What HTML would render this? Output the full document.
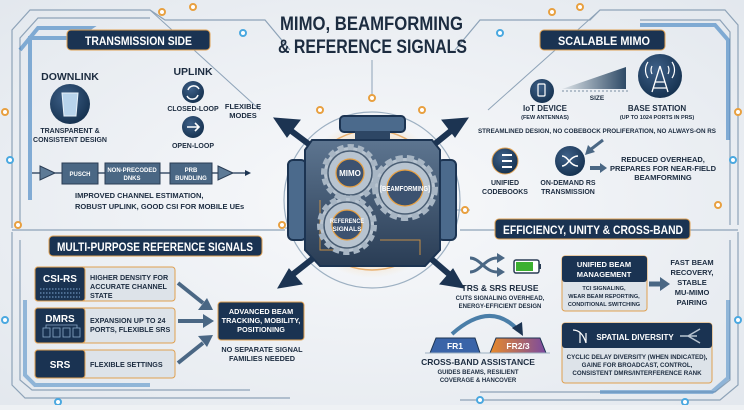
<!DOCTYPE html>
<html><head><meta charset="utf-8"><style>
html,body{margin:0;padding:0;}
body{width:744px;height:405px;overflow:hidden;background:#eef1f4;}
svg text{font-family:"Liberation Sans",Arial,sans-serif;font-weight:bold;fill:#1c2c40;}
</style></head><body>
<svg width="744" height="405" viewBox="0 0 744 405" xmlns="http://www.w3.org/2000/svg">
<defs>
<radialGradient id="bg" cx="50%" cy="50%" r="70%"><stop offset="0" stop-color="#f8f9fb"/><stop offset="1" stop-color="#e3e8ee"/></radialGradient>
<radialGradient id="glow" cx="50%" cy="50%" r="50%"><stop offset="0.6" stop-color="#f6c98a" stop-opacity="0.7"/><stop offset="1" stop-color="#f6c98a" stop-opacity="0"/></radialGradient>
<linearGradient id="body" x1="0" y1="0" x2="0" y2="1"><stop offset="0" stop-color="#5d7590"/><stop offset="1" stop-color="#2a3d55"/></linearGradient>
<linearGradient id="wedge" x1="0" y1="0" x2="1" y2="0"><stop offset="0" stop-color="#dfe5ea"/><stop offset="1" stop-color="#2e4a66"/></linearGradient>
<linearGradient id="fr2" x1="0" y1="0" x2="1" y2="0"><stop offset="0" stop-color="#e88a2a"/><stop offset="1" stop-color="#7a4aa0"/></linearGradient>
<radialGradient id="ic" cx="40%" cy="35%" r="70%"><stop offset="0" stop-color="#3e6088"/><stop offset="1" stop-color="#14304e"/></radialGradient>
</defs>
<rect width="744" height="405" fill="url(#bg)"/>
<g fill="none" stroke="#8ea3b8" stroke-width="1.2">
<path d="M12 228 V30 L30 10 H150 L165 20 H265 L290 50"/>
<path d="M20 225 V38 L38 18 H150"/>
<path d="M455 50 L480 20 H590 L600 10 H725 L738 25 V225"/>
<path d="M730 225 V32 L720 20 H640"/>
<path d="M12 232 V385 L25 398 H290"/>
<path d="M20 240 V380 L32 390 H250"/>
<path d="M460 400 H720 L738 385 V232"/>
<path d="M480 392 H715 L730 380 V240"/>
<path d="M12 230 H285"/><path d="M460 230 H738"/>
</g>
<path d="M20 50 L38 28 H90 L75 38 H30 V200" fill="none" stroke="#3a7fc0" stroke-width="4" opacity="0.6"/>
<path d="M640 25 H715 L728 40 V140" fill="none" stroke="#3a7fc0" stroke-width="4" opacity="0.6"/>
<path d="M25 300 V375 L35 385 H150" fill="none" stroke="#3a7fc0" stroke-width="4" opacity="0.5"/>
<path d="M600 392 H712 L728 378 V300" fill="none" stroke="#3a7fc0" stroke-width="4" opacity="0.5"/>
<g stroke="#8ea3b8" stroke-width="1" fill="none">
<path d="M150 10 L260 110"/><path d="M600 10 L488 110"/><path d="M372 60 V98"/>
<path d="M285 228 H300"/><path d="M440 210 H470"/>
</g>
<g fill="#fff" stroke="#e8a040" stroke-width="2">
<circle cx="162" cy="12" r="3"/><circle cx="193" cy="7" r="3"/><circle cx="5" cy="112" r="3"/>
<circle cx="580" cy="7" r="3"/><circle cx="552" cy="12" r="3"/><circle cx="738" cy="112" r="3"/>
<circle cx="372" cy="98" r="3"/><circle cx="320" cy="110" r="3"/><circle cx="422" cy="110" r="3"/>
<circle cx="18" cy="225" r="3"/><circle cx="282" cy="225" r="3"/><circle cx="465" cy="210" r="3"/><circle cx="718" cy="205" r="3"/>
</g>
<g fill="#fff" stroke="#4aa8e0" stroke-width="2">
<circle cx="243" cy="33" r="3"/><circle cx="500" cy="33" r="3"/><circle cx="10" cy="160" r="3"/>
<circle cx="733" cy="160" r="3"/><circle cx="5" cy="320" r="3"/><circle cx="58" cy="402" r="3"/>
<circle cx="480" cy="400" r="3"/><circle cx="738" cy="320" r="3"/><circle cx="685" cy="402" r="3"/>
</g>
<text x="280" y="30" font-size="19" textLength="183" lengthAdjust="spacingAndGlyphs" fill="#1d3350">MIMO, BEAMFORMING</text>
<text x="278" y="53" font-size="19" textLength="189" lengthAdjust="spacingAndGlyphs" fill="#1d3350">&amp; REFERENCE SIGNALS</text>
<circle cx="372" cy="200" r="88" fill="none" stroke="#9db0c2" stroke-width="1.2"/>
<circle cx="372" cy="200" r="78" fill="url(#glow)"/>
<circle cx="372" cy="200" r="70" fill="none" stroke="#e8b070" stroke-width="1.5"/>
<g stroke="#1c3452" stroke-width="6" fill="#1c3452">
<line x1="330" y1="160" x2="290" y2="130"/><polygon points="274,118 300,120 287,137" stroke-width="1"/>
<line x1="415" y1="160" x2="452" y2="130"/><polygon points="468,118 442,120 455,137" stroke-width="1"/>
<line x1="330" y1="245" x2="292" y2="275"/><polygon points="278,288 302,284 289,269" stroke-width="1"/>
<line x1="415" y1="245" x2="450" y2="275"/><polygon points="464,288 440,284 453,269" stroke-width="1"/>
</g>
<rect x="340" y="116" width="65" height="16" rx="4" fill="#4b6a8c" stroke="#1c3452" stroke-width="2"/>
<rect x="355" y="131" width="35" height="10" fill="#2d4664"/>
<rect x="288" y="160" width="18" height="80" rx="5" fill="#4b6a8c" stroke="#1c3452" stroke-width="2"/>
<rect x="438" y="160" width="18" height="80" rx="5" fill="#4b6a8c" stroke="#1c3452" stroke-width="2"/>
<path d="M312 140 H432 L440 150 V250 L425 266 H320 L305 250 V150 Z" fill="url(#body)" stroke="#1c3452" stroke-width="2"/>
<g stroke="#e8a040" stroke-width="1" fill="none" opacity="0.8"><path d="M380 240 H420 V255"/><path d="M320 200 V250 H350"/></g>
<g fill="#b8c4d0" stroke="#4a5e74" stroke-width="1.5">
<circle cx="350" cy="173" r="26" stroke-dasharray="6 4" stroke-width="6" stroke="#a8b6c4"/><circle cx="350" cy="173" r="22"/>
<circle cx="405" cy="188" r="30" stroke-dasharray="7 4" stroke-width="6" stroke="#a8b6c4"/><circle cx="405" cy="188" r="26"/>
<circle cx="347" cy="225" r="27" stroke-dasharray="6 4" stroke-width="6" stroke="#a8b6c4"/><circle cx="347" cy="225" r="23"/>
</g>
<g fill="#3c5270" stroke="#e8a040" stroke-width="1.2"><circle cx="350" cy="173" r="14"/><circle cx="405" cy="188" r="18"/><circle cx="347" cy="225" r="15"/></g>
<text x="350" y="176" font-size="8" text-anchor="middle" style="fill:#fff">MIMO</text>
<text x="380" y="191" font-size="7.5" textLength="50" lengthAdjust="spacingAndGlyphs" style="fill:#fff">[BEAMFORMING]</text>
<text x="330" y="223" font-size="6.5" textLength="34" lengthAdjust="spacingAndGlyphs" style="fill:#fff">REFERENCE</text>
<text x="347" y="231" font-size="6.5" text-anchor="middle" style="fill:#fff">SIGNALS</text>
<g fill="#1a3352" stroke="#e0a050" stroke-width="1">
<rect x="67" y="30" width="143" height="20" rx="4"/>
<rect x="540" y="30" width="125" height="20" rx="4"/>
<rect x="49" y="236" width="213" height="20" rx="4"/>
<rect x="495" y="219" width="195" height="20" rx="4"/>
</g>
<g font-size="12">
<text x="85" y="45" textLength="107" lengthAdjust="spacingAndGlyphs" style="fill:#fff">TRANSMISSION SIDE</text>
<text x="558" y="45" textLength="92" lengthAdjust="spacingAndGlyphs" style="fill:#fff">SCALABLE MIMO</text>
<text x="57" y="251" textLength="196" lengthAdjust="spacingAndGlyphs" style="fill:#fff">MULTI-PURPOSE REFERENCE SIGNALS</text>
<text x="503" y="234" textLength="180" lengthAdjust="spacingAndGlyphs" style="fill:#fff">EFFICIENCY, UNITY &amp; CROSS-BAND</text>
</g>
<text x="70" y="80" font-size="10.5" text-anchor="middle">DOWNLINK</text>
<circle cx="70" cy="104" r="20" fill="url(#ic)"/>
<path d="M62 93 H78 L76 116 H64 Z" fill="#b8d4ec" stroke="#e8f2fa" stroke-width="1"/>
<text x="70" y="133" font-size="7" text-anchor="middle">TRANSPARENT &amp;</text>
<text x="70" y="142" font-size="7" text-anchor="middle">CONSISTENT DESIGN</text>
<text x="193" y="75" font-size="10.5" text-anchor="middle">UPLINK</text>
<circle cx="193" cy="92" r="11" fill="url(#ic)"/>
<path d="M188 90 A6 6 0 0 1 199 89 M198 95 A6 6 0 0 1 187 96" stroke="#fff" stroke-width="1.5" fill="none"/>
<text x="193" y="111" font-size="7" text-anchor="middle">CLOSED-LOOP</text>
<circle cx="193" cy="127" r="11" fill="url(#ic)"/>
<path d="M187 127 H199 M195 123 L199 127 L195 131" stroke="#fff" stroke-width="1.6" fill="none"/>
<text x="193" y="148" font-size="7" text-anchor="middle">OPEN-LOOP</text>
<text x="243" y="109" font-size="7.5" text-anchor="middle">FLEXIBLE</text>
<text x="243" y="118" font-size="7.5" text-anchor="middle">MODES</text>
<line x1="32" y1="173" x2="245" y2="173" stroke="#1c3452" stroke-width="1.2"/>
<polygon points="245,170 251,173 245,176" fill="#1c3452"/>
<polygon points="40,166 55,173 40,180" fill="#5d7a96" stroke="#2a3d55"/>
<polygon points="218,166 233,173 218,180" fill="#5d7a96" stroke="#2a3d55"/>
<g fill="#4a6784" stroke="#2a3d55"><rect x="62" y="163" width="36" height="21"/><rect x="105" y="163" width="55" height="21"/><rect x="170" y="163" width="42" height="21"/></g>
<g font-size="6" text-anchor="middle"><text x="80" y="176" style="fill:#fff">PUSCH</text><text x="132" y="172" style="fill:#fff">NON-PRECODED</text><text x="132" y="180" style="fill:#fff">DNKS</text><text x="191" y="172" style="fill:#fff">PRB</text><text x="191" y="180" style="fill:#fff">BUNDLING</text></g>
<text x="75" y="198" font-size="7.5">IMPROVED CHANNEL ESTIMATION,</text>
<text x="75" y="209" font-size="7.5">ROBUST UPLINK, GOOD CSI FOR MOBILE UEs</text>
<circle cx="542" cy="91" r="12" fill="url(#ic)"/><rect x="538" y="84" width="7" height="12" rx="1" fill="none" stroke="#fff" stroke-width="1.2"/>
<polygon points="562,89 626,67 626,89" fill="url(#wedge)"/>
<line x1="562" y1="91" x2="628" y2="91" stroke="#7a8ea2" stroke-dasharray="2 2"/>
<text x="597" y="100" font-size="6.5" text-anchor="middle">SIZE</text>
<circle cx="660" cy="76" r="22" fill="url(#ic)"/>
<path d="M660 66 L652 92 M660 66 L668 92 M655 82 H665 M653 88 H667" stroke="#fff" stroke-width="1.3" fill="none"/>
<path d="M652 66 A9 9 0 0 0 652 74 M668 66 A9 9 0 0 1 668 74 M648 62 A14 14 0 0 0 648 78 M672 62 A14 14 0 0 1 672 78" stroke="#fff" stroke-width="1.2" fill="none"/>
<text x="545" y="111" font-size="8" text-anchor="middle">IoT DEVICE</text>
<text x="545" y="119" font-size="5.5" text-anchor="middle">(FEW ANTENNAS)</text>
<text x="657" y="111" font-size="8" text-anchor="middle">BASE STATION</text>
<text x="657" y="119" font-size="5.5" text-anchor="middle">(UP TO 1024 PORTS IN PRS)</text>
<text x="597" y="133" font-size="6.3" text-anchor="middle">STREAMLINED DESIGN, NO COBEBOCK PROLIFERATION, NO ALWAYS-ON RS</text>
<circle cx="505" cy="161" r="13" fill="url(#ic)" stroke="#e0a050" stroke-width="1"/>
<path d="M502 155 H512 M502 161 H512 M502 167 H512" stroke="#fff" stroke-width="2"/>
<text x="505" y="185" font-size="7" text-anchor="middle">UNIFIED</text><text x="505" y="194" font-size="7" text-anchor="middle">CODEBOOKS</text>
<circle cx="570" cy="161" r="15" fill="url(#ic)"/>
<path d="M562 156 C568 156 570 166 578 166 M562 166 C568 166 570 156 578 156" stroke="#fff" stroke-width="1.5" fill="none"/>
<text x="568" y="185" font-size="7" text-anchor="middle">ON-DEMAND RS</text><text x="568" y="194" font-size="7" text-anchor="middle">TRANSMISSION</text>
<path d="M603 140 L590 150" stroke="#4a6784" stroke-width="3"/><polygon points="585,155 588,145 595,152" fill="#4a6784"/>
<path d="M590 168 H600" stroke="#4a6784" stroke-width="4"/><polygon points="600,163 607,168 600,173" fill="#4a6784"/>
<text x="663" y="162" font-size="7.5" text-anchor="middle">REDUCED OVERHEAD,</text>
<text x="663" y="171" font-size="7.5" text-anchor="middle">PREPARES FOR NEAR-FIELD</text>
<text x="663" y="180" font-size="7.5" text-anchor="middle">BEAMFORMING</text>
<g stroke="#e0a050" stroke-width="1">
<rect x="35" y="267" width="140" height="34" rx="3" fill="#dde3e9"/><rect x="35" y="267" width="50" height="34" rx="3" fill="#1a3352"/>
<rect x="35" y="308" width="140" height="35" rx="3" fill="#dde3e9"/><rect x="35" y="308" width="50" height="35" rx="3" fill="#1a3352"/>
<rect x="35" y="350" width="140" height="28" rx="3" fill="#dde3e9"/><rect x="35" y="350" width="50" height="28" rx="3" fill="#1a3352"/>
</g>
<text x="60" y="282" font-size="10" text-anchor="middle" style="fill:#fff">CSI-RS</text>
<path d="M40 289 H80 M40 293 H80 M40 297 H80" stroke="#6a90b8" stroke-width="1.2" stroke-dasharray="1.5 1.5"/>
<text x="60" y="322" font-size="10" text-anchor="middle" style="fill:#fff">DMRS</text>
<g fill="none" stroke="#8aa8c8" stroke-width="0.8"><rect x="43" y="328" width="7" height="9"/><rect x="53" y="328" width="7" height="9"/><rect x="63" y="328" width="7" height="9"/><rect x="73" y="328" width="7" height="9"/><path d="M46 328 V325 H77 V328"/></g>
<text x="60" y="368" font-size="10" text-anchor="middle" style="fill:#fff">SRS</text>
<g font-size="7.2"><text x="90" y="280">HIGHER DENSITY FOR</text><text x="90" y="289">ACCURATE CHANNEL</text><text x="90" y="298">STATE</text>
<text x="90" y="323">EXPANSION UP TO 24</text><text x="90" y="332">PORTS, FLEXIBLE SRS</text><text x="90" y="367">FLEXIBLE SETTINGS</text></g>
<g fill="#4a6784" stroke="#4a6784" stroke-width="4">
<line x1="178" y1="283" x2="203" y2="303"/><line x1="178" y1="321" x2="203" y2="321"/><line x1="178" y1="363" x2="203" y2="343"/>
</g>
<g fill="#4a6784"><polygon points="213,310 198,310 207,298"/><polygon points="214,321 203,314 203,328"/><polygon points="213,335 207,347 198,336"/></g>
<rect x="218" y="302" width="86" height="38" rx="3" fill="#1a3352" stroke="#e0a050"/>
<text x="261" y="314" font-size="7.3" text-anchor="middle" style="fill:#fff">ADVANCED BEAM</text>
<text x="261" y="323" font-size="7.3" text-anchor="middle" style="fill:#fff">TRACKING, MOBILITY,</text>
<text x="261" y="332" font-size="7.3" text-anchor="middle" style="fill:#fff">POSITIONING</text>
<text x="262" y="352" font-size="7.3" text-anchor="middle">NO SEPARATE SIGNAL</text>
<text x="262" y="361" font-size="7.3" text-anchor="middle">FAMILIES NEEDED</text>
<path d="M470 258 C480 258 485 272 497 272 M470 272 C480 272 485 258 497 258" stroke="#4a6784" stroke-width="3" fill="none"/>
<polygon points="497,253 505,258 497,263" fill="#4a6784"/><polygon points="497,267 505,272 497,277" fill="#4a6784"/>
<rect x="514" y="260" width="25" height="13" rx="2" fill="#fff" stroke="#2a3d55" stroke-width="1.5"/><rect x="516" y="262" width="17" height="9" fill="#3cb030"/><rect x="539" y="264" width="2" height="5" fill="#2a3d55"/>
<text x="500" y="291" font-size="8.5" text-anchor="middle">TRS &amp; SRS REUSE</text>
<text x="500" y="300" font-size="6" text-anchor="middle">CUTS SIGNALING OVERHEAD,</text>
<text x="500" y="308" font-size="6" text-anchor="middle">ENERGY-EFFICIENT DESIGN</text>
<path d="M452 334 Q490 300 518 330" stroke="#4a7ea8" stroke-width="4" fill="none"/><polygon points="512,328 523,336 522,322" fill="#1c3452"/>
<path d="M430 353 L436 338 H475 L480 353 Z" fill="#3a64a8" stroke="#1c3452"/>
<path d="M490 353 L496 338 H540 L546 353 Z" fill="url(#fr2)" stroke="#1c3452"/>
<line x1="425" y1="353" x2="550" y2="353" stroke="#9db0c2"/>
<text x="455" y="349" font-size="8.5" text-anchor="middle" style="fill:#fff">FR1</text>
<text x="518" y="349" font-size="8.5" text-anchor="middle" style="fill:#fff">FR2/3</text>
<text x="478" y="365" font-size="8.5" text-anchor="middle">CROSS-BAND ASSISTANCE</text>
<text x="478" y="374" font-size="6" text-anchor="middle">GUIDES BEAMS, RESILIENT</text>
<text x="478" y="382" font-size="6" text-anchor="middle">COVERAGE &amp; HANCOVER</text>
<rect x="562" y="256" width="85" height="55" rx="3" fill="#dde3e9" stroke="#e0a050"/>
<rect x="562" y="256" width="85" height="26" rx="3" fill="#1a3352"/>
<text x="604" y="267" font-size="7.5" text-anchor="middle" style="fill:#fff">UNIFIED BEAM</text>
<text x="604" y="277" font-size="7.5" text-anchor="middle" style="fill:#fff">MANAGEMENT</text>
<text x="604" y="290" font-size="5.6" text-anchor="middle">TCI SIGNALING,</text>
<text x="604" y="298" font-size="5.6" text-anchor="middle">WEAR BEAM REPORTING,</text>
<text x="604" y="306" font-size="5.6" text-anchor="middle">CONDITIONAL SWITCHING</text>
<path d="M649 284 H660" stroke="#4a6784" stroke-width="5"/><polygon points="660,277 670,284 660,291" fill="#4a6784"/>
<g font-size="7.5" text-anchor="middle"><text x="692" y="265">FAST BEAM</text><text x="692" y="275">RECOVERY,</text><text x="692" y="285">STABLE</text><text x="692" y="295">MU-MIMO</text><text x="692" y="305">PAIRING</text></g>
<rect x="562" y="323" width="150" height="60" rx="3" fill="#dde3e9" stroke="#e0a050"/>
<rect x="562" y="323" width="150" height="25" rx="3" fill="#1a3352"/>
<path d="M573 330 Q582 330 586 343 M580 343 V333 M586 343 V333" stroke="#fff" stroke-width="1.2" fill="none"/>
<text x="635" y="340" font-size="8" text-anchor="middle" style="fill:#fff">SPATIAL DIVERSITY</text>
<path d="M680 336 H697 M688 336 L700 329 M688 336 L700 343" stroke="#b8c4d0" stroke-width="1.5" fill="none"/>
<text x="637" y="359" font-size="6.2" text-anchor="middle">CYCLIC DELAY DIVERSITY (WHEN INDICATED),</text>
<text x="637" y="367" font-size="6.2" text-anchor="middle">GAINE FOR BROADCAST, CONTROL,</text>
<text x="637" y="375" font-size="6.2" text-anchor="middle">CONSISTENT DMRS/INTERFERENCE RANK</text>
</svg>
</body></html>
